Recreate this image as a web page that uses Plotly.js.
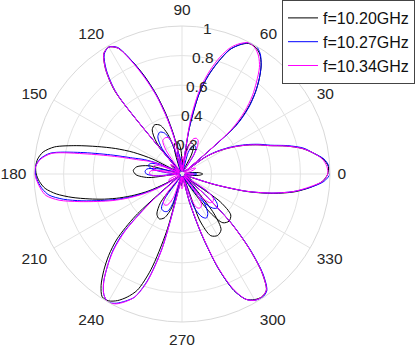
<!DOCTYPE html>
<html>
<head>
<meta charset="utf-8">
<script src="https://cdn.plot.ly/plotly-3.0.1.min.js"></script>
<style>
  html, body { margin: 0; padding: 0; background: #fff; }
  #chart { width: 415px; height: 348px; }
</style>
</head>
<body>
<div id="chart"></div>
<script>
// main pass angles (deg), starting at the null between the 0 and 60 deg beams
const thetaMain = [39,42,45,48,51,54,57,60,63,66,69,72,75,78,81,84,87,90,93,96,
  99,102,105,108,111,114,117,120,123,126,129,132,135,138,141,144,147,150,153,156,
  159,162,165,168,171,174,177,180,183,186,189,192,195,198,201,204,207,210,213,216,
  219,222,225,228,231,234,237,240,243,246,249,252,255,258,261,264,267,270,273,276,
  279,282,285,288,291,294,297,300,303,306,309,312,315,318,321,324,327,330,333,336,
  339,342,345,348,351,354,357,360,363,366,369,372,375,378,381,384,387,390,393,396,399];

const rMain1020 = [0.03,0.49,0.63,0.74,0.83,0.91,0.965,0.99,0.99,0.955,0.9,0.8,0.69,0.55,0.31,0.04,0.07,0.1,0.07,0.03,
  0.12,0.27,0.42,0.57,0.71,0.84,0.955,0.99,0.97,0.88,0.72,0.08,0.04,0.07,0.09,0.08,0.05,0.05,0.22,0.36,
  0.48,0.6,0.74,0.88,0.95,0.98,0.99,0.985,0.965,0.93,0.86,0.76,0.65,0.55,0.45,0.35,0.25,0.13,0.03,0.02,
  0.05,0.42,0.62,0.74,0.84,0.93,0.99,0.99,0.96,0.91,0.84,0.68,0.4,0.06,0.03,0.06,0.08,0.06,0.03,0.05,
  0.04,0.03,0.2,0.43,0.68,0.86,0.95,0.98,0.99,0.97,0.86,0.68,0.47,0.2,0.02,0.06,0.08,0.06,0.03,0.02,
  0.04,0.23,0.46,0.63,0.77,0.87,0.95,0.985,0.99,0.96,0.9,0.83,0.73,0.62,0.55,0.48,0.41,0.34,0.27,0.19,0.04];

const rMain1027 = [0.03,0.5,0.64,0.74,0.83,0.91,0.97,1.0,0.995,0.955,0.9,0.8,0.69,0.55,0.31,0.04,0.06,0.08,0.05,0.03,
  0.1,0.25,0.4,0.56,0.7,0.84,0.96,0.99,0.965,0.87,0.7,0.06,0.03,0.05,0.07,0.06,0.04,0.03,0.05,0.17,
  0.27,0.35,0.5,0.7,0.9,0.965,0.99,0.99,0.975,0.95,0.91,0.82,0.7,0.58,0.48,0.38,0.28,0.18,0.08,0.01,
  0.02,0.3,0.56,0.7,0.8,0.9,0.97,1.0,0.98,0.94,0.89,0.76,0.52,0.08,0.02,0.05,0.07,0.05,0.03,0.04,
  0.03,0.03,0.2,0.43,0.68,0.86,0.95,0.985,0.995,0.975,0.87,0.69,0.48,0.21,0.02,0.05,0.07,0.05,0.03,0.02,
  0.03,0.22,0.45,0.62,0.76,0.87,0.96,1.0,0.995,0.965,0.9,0.84,0.74,0.63,0.56,0.49,0.42,0.35,0.28,0.2,0.04];

const rMain1034 = [0.02,0.45,0.6,0.71,0.8,0.89,0.95,0.985,0.995,0.965,0.915,0.83,0.72,0.59,0.38,0.06,0.05,0.06,0.04,0.03,
  0.09,0.24,0.39,0.55,0.69,0.83,0.955,0.99,0.97,0.88,0.71,0.07,0.03,0.04,0.06,0.05,0.03,0.02,0.03,0.15,
  0.24,0.31,0.45,0.65,0.89,0.96,0.99,0.995,0.98,0.96,0.93,0.85,0.72,0.6,0.5,0.4,0.3,0.2,0.1,0.02,
  0.02,0.28,0.54,0.69,0.8,0.9,0.97,1.0,0.985,0.945,0.89,0.77,0.53,0.09,0.02,0.04,0.06,0.04,0.02,0.03,
  0.03,0.03,0.19,0.42,0.67,0.85,0.95,0.985,0.99,0.97,0.86,0.68,0.47,0.2,0.02,0.04,0.06,0.04,0.02,0.02,
  0.03,0.22,0.45,0.62,0.76,0.86,0.95,0.985,0.98,0.955,0.9,0.83,0.73,0.62,0.55,0.48,0.41,0.34,0.27,0.19,0.04];

// second pass: the small inner loops near the centre
const thetaInner1020 = [60,64,68,72,76,80,84, 88,92,96,100,104,108,112, 104,109,114,119,124,129,134,
  161,166,171,176,181,186,191, 228,233,238,243,248,253,258, 286,291,295,300,305,309,314,
  301,306,310,315,320,324,329, 348,352,356,360,364,368,372];
const rInner1020 = [0.02,0.15,0.21,0.22,0.21,0.15,0.02, 0.02,0.15,0.21,0.22,0.21,0.15,0.02, 0.02,0.27,0.36,0.38,0.36,0.27,0.02,
  0.02,0.23,0.31,0.33,0.31,0.23,0.02, 0.02,0.24,0.32,0.34,0.32,0.24,0.02, 0.02,0.34,0.46,0.48,0.46,0.34,0.02,
  0.02,0.32,0.43,0.45,0.43,0.32,0.02, 0.02,0.07,0.12,0.14,0.12,0.07,0.02];

const thetaInner1027 = [54,58,62,66,70,74,78, 91,94,98,101,104,108,111, 103,108,113,118,123,128,133,
  153,157,161,165,169,173,177, 164,168,172,176,180,184,188, 230,235,239,244,249,253,258,
  286,290,295,299,303,308,312, 303,307,312,316,320,325,329, 350,353,357,360,363,367,370];
const rInner1027 = [0.02,0.15,0.2,0.21,0.2,0.15,0.02, 0.02,0.075,0.13,0.15,0.13,0.075,0.02, 0.02,0.22,0.3,0.32,0.3,0.22,0.02,
  0.02,0.16,0.22,0.235,0.22,0.16,0.02, 0.02,0.175,0.24,0.25,0.24,0.175,0.02, 0.02,0.2,0.27,0.28,0.27,0.2,0.02,
  0.02,0.24,0.32,0.34,0.32,0.24,0.02, 0.02,0.23,0.31,0.33,0.31,0.23,0.02, 0.02,0.05,0.09,0.1,0.09,0.05,0.02];

const thetaInner1034 = [55,59,64,68,72,77,81, 78,81,85,88,91,95,98, 101,106,110,115,120,124,129,
  130,133,137,140,143,147,150, 155,159,162,166,170,173,177, 167,171,174,178,182,185,189,
  195,198,202,205,208,212,215, 228,232,237,241,245,250,254, 260,263,267,270,273,277,280,
  286,290,294,298,302,306,310, 306,310,314,318,322,326,330, 348,351,355,358,361,365,368,
  373,376,380,383,386,390,393];
const rInner1034 = [0.02,0.18,0.25,0.26,0.25,0.18,0.02, 0.02,0.06,0.1,0.12,0.1,0.06,0.02, 0.02,0.19,0.26,0.27,0.26,0.19,0.02,
  0.02,0.05,0.09,0.1,0.09,0.05,0.02, 0.02,0.14,0.19,0.2,0.19,0.14,0.02, 0.02,0.15,0.21,0.22,0.21,0.15,0.02,
  0.02,0.05,0.09,0.1,0.09,0.05,0.02, 0.02,0.17,0.23,0.24,0.23,0.17,0.02, 0.02,0.05,0.09,0.1,0.09,0.05,0.02,
  0.02,0.18,0.25,0.26,0.25,0.18,0.02, 0.02,0.2,0.27,0.28,0.27,0.2,0.02, 0.02,0.04,0.07,0.08,0.07,0.04,0.02,
  0.02,0.05,0.09,0.1,0.09,0.05,0.02];

const names = ['f=10.20GHz', 'f=10.27GHz', 'f=10.34GHz'];
const colors = ['#000000', '#0000ff', '#ff00ff'];
const angTicks = [0,30,60,90,120,150,180,210,240,270,300,330];
const radTicks = [0.2,0.4,0.6,0.8,1];

const mains = [rMain1020, rMain1027, rMain1034];
const innerT = [thetaInner1020, thetaInner1027, thetaInner1034];
const innerR = [rInner1020, rInner1027, rInner1034];

const traces = names.map((nm, i) => ({
  type: 'scatterpolar',
  mode: 'lines',
  name: nm,
  theta: thetaMain.concat(innerT[i]),
  r: mains[i].concat(innerR[i]),
  line: { color: colors[i], width: 1, shape: 'spline', smoothing: 0.8 },
  hoverinfo: 'skip'
}));

// centre (182,174), radius 148 px in the 415x348 page
const W = 415, H = 348, cx = 182, cy = 174, R = 148, rAngle = 80;

// radial tick labels sit centred on the 80 deg ray, like MATLAB
const radLabels = radTicks.map(v => ({
  text: String(v), showarrow: false, xref: 'paper', yref: 'paper',
  x: (cx + R * v * Math.cos(rAngle * Math.PI / 180)) / W,
  y: (H - cy + R * v * Math.sin(rAngle * Math.PI / 180)) / H,
  xanchor: 'center', yanchor: 'middle',
  font: { size: 15.5, color: '#262626' }
}));

const layout = {
  width: W, height: H,
  margin: { l: 0, r: 0, t: 0, b: 0 },
  paper_bgcolor: '#fff',
  font: { family: 'Liberation Sans, Arial, sans-serif', size: 15.5, color: '#262626' },
  showlegend: true,
  legend: {
    x: 1, xanchor: 'right', y: 1, yanchor: 'top',
    bgcolor: '#fff', bordercolor: '#444', borderwidth: 1,
    font: { size: 16, color: '#111' }
  },
  annotations: radLabels,
  polar: {
    domain: { x: [(cx - R) / W, (cx + R) / W], y: [(H - cy - R) / H, (H - cy + R) / H] },
    bgcolor: '#fff',
    angularaxis: {
      tickmode: 'array', tickvals: angTicks, ticktext: angTicks.map(String),
      direction: 'counterclockwise', rotation: 0,
      showline: true, linecolor: '#d9d9d9', linewidth: 1,
      gridcolor: '#e3e3e3', ticks: 'outside', ticklen: 4, tickcolor: 'rgba(0,0,0,0)'
    },
    radialaxis: {
      range: [0, 1], tickmode: 'array', tickvals: radTicks,
      showticklabels: false, angle: rAngle, showline: false, ticks: '', gridcolor: '#e3e3e3'
    }
  }
};

Plotly.newPlot('chart', traces, layout, { displayModeBar: false, staticPlot: true });
</script>
</body>
</html>
